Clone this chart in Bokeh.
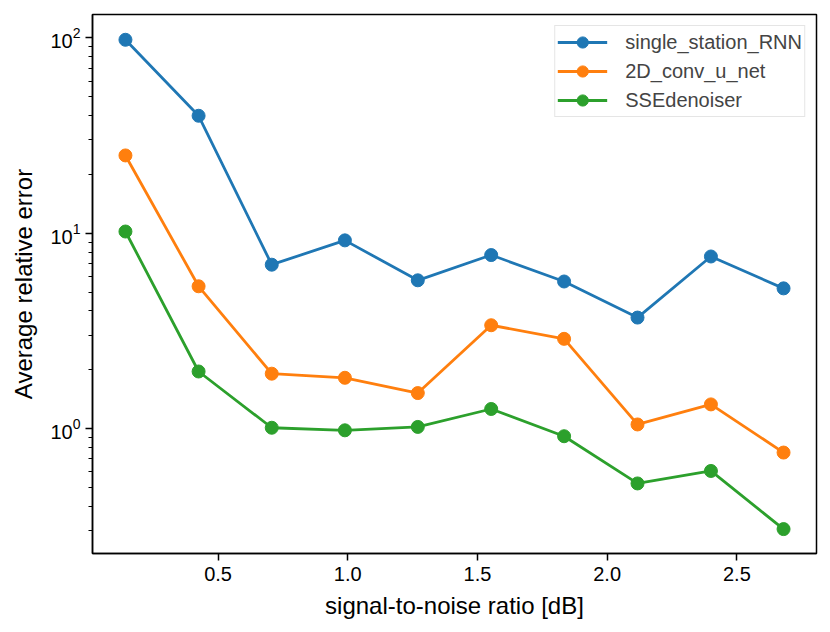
from bokeh.plotting import figure
from bokeh.models import Range1d, FixedTicker, Legend, LegendItem, PrintfTickFormatter
from bokeh.embed import file_html
from bokeh.resources import INLINE

snr = [0.143, 0.425, 0.707, 0.989, 1.27, 1.553, 1.834, 2.117, 2.40, 2.68]
single_station_rnn = [97.7, 39.9, 6.9, 9.19, 5.74, 7.73, 5.66, 3.70, 7.6, 5.22]
conv_u_net_2d = [25.0, 5.35, 1.91, 1.82, 1.52, 3.38, 2.88, 1.05, 1.33, 0.754]
sse_denoiser = [10.2, 1.96, 1.01, 0.98, 1.02, 1.26, 0.914, 0.524, 0.607, 0.306]

series_names = ["single_station_RNN", "2D_conv_u_net", "SSEdenoiser"]
series_values = [single_station_rnn, conv_u_net_2d, sse_denoiser]
colors = ["#1f77b4", "#ff7f0e", "#2ca02c"]

x_ticks = [0.5, 1.0, 1.5, 2.0, 2.5]
y_major = [0.1, 1, 10, 100]

FONT = "Liberation Sans"

p = figure(width=830, height=632, y_axis_type="log",
           output_backend="svg", toolbar_location=None,
           x_range=Range1d(0.016, 2.807), y_range=Range1d(0.2295, 131.6),
           min_border_left=92, min_border_right=14, min_border_top=14, min_border_bottom=79)

p.background_fill_color = "white"
p.border_fill_color = "white"
p.outline_line_color = "black"
p.outline_line_width = 1.5
p.grid.visible = False

minor = []
for d in [0.1, 1, 10]:
    for k in range(2, 10):
        minor.append(d * k)
p.yaxis.ticker = FixedTicker(ticks=y_major, minor_ticks=minor)
p.xaxis.ticker = FixedTicker(ticks=x_ticks, minor_ticks=[])
p.xaxis.formatter = PrintfTickFormatter(format="%.1f")

for ax in [p.xaxis[0], p.yaxis[0]]:
    ax.axis_line_color = "black"
    ax.axis_line_width = 1.5
    ax.major_tick_line_color = "black"
    ax.major_tick_line_width = 1.5
    ax.minor_tick_line_color = "black"
    ax.minor_tick_line_width = 1.2
    ax.major_tick_in = 0
    ax.major_tick_out = 7
    ax.minor_tick_in = 0
    ax.minor_tick_out = 4
    ax.major_label_text_font = FONT
    ax.major_label_text_font_size = "20px"
    ax.major_label_text_color = "black"
    ax.axis_label_text_font = FONT
    ax.axis_label_text_font_size = "24px"
    ax.axis_label_text_font_style = "normal"
    ax.axis_label_text_color = "black"

p.xaxis.axis_label = "signal-to-noise ratio [dB]"
p.yaxis.axis_label = "Average relative error"
p.xaxis.major_label_standoff = 6
p.yaxis.major_label_standoff = 5
p.xaxis.axis_label_standoff = 8
p.yaxis.axis_label_standoff = 10

items = []
for name, vals, c in zip(series_names, series_values, colors):
    r1 = p.line(snr, vals, line_color=c, line_width=2.8)
    r2 = p.scatter(snr, vals, size=13, fill_color=c, line_color=c)
    items.append(LegendItem(label=name, renderers=[r1, r2]))

legend = Legend(items=items, location="top_right")
legend.margin = 11
legend.padding = 2
legend.spacing = 1
legend.glyph_width = 50
legend.glyph_height = 28
legend.label_height = 28
legend.label_standoff = 18
legend.label_text_font = FONT
legend.label_text_font_size = "20px"
legend.border_line_color = "#cccccc"
legend.border_line_width = 1.5
legend.background_fill_alpha = 0.8
p.add_layout(legend, "center")

open("out.html", "w").write(file_html(p, INLINE))
